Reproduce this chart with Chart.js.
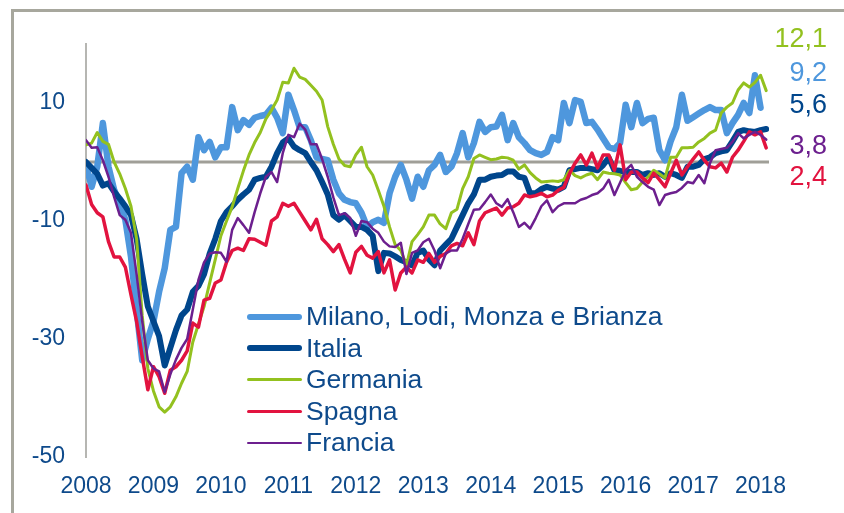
<!DOCTYPE html>
<html>
<head>
<meta charset="utf-8">
<script src="https://cdn.jsdelivr.net/npm/chart.js@4.4.1/dist/chart.umd.min.js"></script>
<style>
  body { margin: 0; background: #fff; }
  #wrap { position: relative; width: 844px; height: 513px; overflow: hidden; background: #fff; }
  #frame { position: absolute; left: 11px; top: 9px; width: 900px; height: 600px;
           border-left: 3px solid #A7A79D; border-top: 3px solid #A7A79D; }
  #c { position: absolute; left: 0; top: 0; }
  #legend { position: absolute; left: 247px; top: 301px; font-family: "Liberation Sans", Arial, sans-serif;
            font-size: 26.5px; color: #0E4A8B; }
  .row { height: 31.5px; display: flex; align-items: center; white-space: nowrap; }
  .swatch { display: inline-block; width: 55px; margin-right: 4px; border-radius: 4px; }
  .endlab { position: absolute; right: 17px; font-family: "Liberation Sans", Arial, sans-serif;
            font-size: 27px; line-height: 27px; transform: translateY(-50%); }
</style>
</head>
<body>
<div id="wrap">
  <div id="frame"></div>
  <canvas id="c" width="844" height="513"></canvas>
  <div id="legend"></div>
</div>
<script>
// mesi: gen 2008 - feb 2018
var yearLabels = ['2008','2009','2010','2011','2012','2013','2014','2015','2016','2017','2018'];
var yTicks = [-50, -30, -10, 10];
var seriesNames = ['Milano, Lodi, Monza e Brianza', 'Italia', 'Germania', 'Spagna', 'Francia'];

var milano = [
  -0.5, -4.2, -0.8, 6.6, -0.8, -4.7, -7, -9.8, -16, -25, -33.6, -30,
  -27, -22, -18, -11.5, -11, -1.9, -0.8, -3, 4.2, 2, 3.4, 0.8,
  2.5, 2.5, 9.3, 5.4, 7.1, 6.3, 7.5, 7.8, 8, 9.2, 7.5, 4.9,
  11.4, 8.8, 5.9, 5.9, 3.7, 0.8, 0.5, 0.3, -3, -5.3, -6.4, -6.8,
  -7, -8.6, -11, -10.2, -9.8, -10.3, -5.3, -2.5, -0.5, -3, -6.2, -2.5,
  -4.2, -1.4, -0.5, 1.2, -1.7, -0.8, 1.5, 4.9, 0.8, 3.2, 6.8, 5.1,
  5.9, 6, 8, 3.7, 6.6, 4.2, 3.2, 2, 1.5, 1.2, 1.7, 4.2,
  3.7, 10, 6.6, 10.5, 10.2, 6.6, 6.8, 5.5, 4, 2.5, 2.2, 3.2,
  9.7, 5.9, 10, 6.6, 7.3, 7.5, 2, 0.3, 3.5, 5.9, 11.4, 7,
  7.6, 8.2, 8.8, 9.3, 8.8, 8.8, 4.9, 6.6, 8, 10, 8.3, 14.7,
  9.2, null
];
var italia = [
  0, -1, -2, -4, -3.6, -5, -6.2, -7.5, -9, -13, -19, -24.5,
  -27, -29.5, -34.5, -31.5, -28.5, -26, -25, -22, -21, -19, -15.5, -13,
  -10, -8.5, -7.5, -6.4, -5.5, -4.7, -3, -2.7, -2.5, -0.8, 1.5, 3.3,
  4, 2.6, 2, 1.5, 0, -1.4, -3.4, -5.5, -9, -9.8, -9, -10,
  -11, -11, -11.5, -12.5, -18.5, -15.4, -15.5, -16, -16.6, -17, -17.5, -15.4,
  -15, -16.5, -17.5, -15, -14, -13, -11, -9, -7, -5.5, -3, -3,
  -2.5, -2.3, -2.2, -1.6, -1.6, -2.5, -2.7, -5.3, -5.3, -4.6, -4.2, -4.5,
  -4.7, -4.2, -1.4, -1.2, -1, -1, -1.2, -1.4, -0.5, 0.7, -1.4, -1.5,
  -1.7, -1.7, -1.7, -2.2, -1.9, -2.2, -1.9, -2.5, -1.9, -2.2, -2.7, -0.8,
  -0.8, -0.5, 0.5, 0.8, 1.5, 1.8, 2, 3.5, 5.1, 5.4, 5.2, 5.1,
  5.4, 5.6
];
var germania = [
  2.9, 3.2, 5, 3.5, 3, 0, -2, -4.5, -7.5, -13, -26, -35,
  -38.8, -41.5, -42.4, -41.5, -39.8, -37.5, -35.5, -30.5, -27.5, -24.5, -20.5, -16.5,
  -12.5, -10, -7.6, -4.5, -1.5, 1.2, 3.3, 5, 7.3, 8.8, 10.5, 13.5,
  13.4, 15.9, 14.4, 14, 13, 12, 10.5, 6, 3, 0.5, -0.6, -0.8,
  1.2, 2.5, -0.8, -2.2, -4.8, -7.5, -11, -14, -15, -17.5, -13.5, -12.3,
  -11, -9, -9, -10.5, -11.3, -8.6, -8, -4.5, -2.5, 0.6, 1.2, 0.8,
  0.4, 0.5, 0.8, 0.7, 0.3, -1.2, -0.5, -1.8, -2.7, -3.4, -3.3, -3.2,
  -3.3, -3, -1.4, -2.3, -2.7, -2.2, -1.9, -3, -1.7, -1.9, -2, -2.2,
  -3.5, -4.7, -4.5, -3.4, -2.5, -1.4, -2, -2.7, 0.8, 0.8, 2.4, 2.4,
  2.5, 3.4, 4, 4.9, 5.4, 8.3, 9.3, 10, 12.2, 13.4, 12.7, 13.5,
  14.7, 12.1
];
var spagna = [
  -3.9, -7.2, -8.6, -9.3, -13.5, -16.1, -16.1, -17.8, -22.5, -27, -33, -38.6,
  -34.7, -36.4, -39.2, -35.3, -34.7, -33.6, -32, -27.3, -28, -23.4, -23.1, -20.5,
  -20, -17, -15, -14.6, -15, -13, -13.1, -13.6, -14.1, -10, -9.3, -7,
  -7.5, -7, -8.5, -10, -11.5, -9.7, -13, -14, -15.2, -14, -16.5, -18.8,
  -15.3, -14.3, -15.8, -16.3, -15.2, -18.8, -16.6, -21.7, -18.8, -17.8, -18.8, -16.6,
  -17, -15.5, -17, -16, -15.5, -14.2, -13.8, -14.2, -12, -14, -10, -8.6,
  -8.2, -7.8, -9, -7.8, -7.6, -7, -5.6, -5.9, -5.7, -5.3, -5.9, -5.6,
  -4.8, -4.3, -2, -0.2, 1.2, -0.5, 1.5, -1, 1.2, 1.2, -1.4, 2.9,
  -3, -1.7, -1.7, -2.7, -3.5, -1.9, -3, -4.2, -1.9, 0.3, -2.2, -0.8,
  0.5, 1.7, 0.3, -0.8, -1, -0.2, -1.7, 0.8, 2, 3.5, 5.1, 4.6,
  5.1, 2.4
];
var francia = [
  3.7, 2.4, 2.5, 0.3, -2.5, -5.9, -9, -9.8, -12, -19, -27, -33.6,
  -35, -35.5, -39, -36, -33.5, -31.5, -30, -25, -20, -17, -15.5, -15.3,
  -15.4, -16.9, -11.5, -9.5, -10.7, -12, -8.5, -5.3, -2.5, -1.7, -3.4, 1.5,
  4.6, 4.2, 6.5, 5.5, 3, 3, 0.5, -2.5, -6, -9, -8.7, -9.5,
  -12.5, -10, -10.2, -11.3, -12, -13.5, -14.3, -14.4, -13.7, -19, -15.4, -15,
  -13.6, -13, -15, -18, -15.5, -15, -15, -13, -10.5, -8.1, -8, -6.8,
  -5.5, -7, -7.6, -6.3, -8.5, -11, -10.3, -11.3, -9.5, -7.5, -6.5, -8.5,
  -7.5, -7, -7, -7, -6.4, -6.1, -5.6, -5.3, -4.5, -3, -5.6, -3.5,
  -1.4, -0.5, -2.5, -3.4, -4.2, -4.7, -7.3, -5.6, -5.3, -5.1, -4.4, -3.4,
  -3.6, -2.2, -3.6, -0.2, 2, 2.2, 2.4, 3.4, 4.9, 4, 4.6, 5.1,
  4.6, 3.8
];

var colori = ['#4E97DD', '#00468C', '#93C11F', '#E2133F', '#6C1F8E'];
var spessori = [6.5, 6, 3, 3.5, 2.5];
var testo = '#0E4A8B';
var font = '"Liberation Sans", Arial, sans-serif';

var series = [milano, italia, germania, spagna, francia];

var datasets = [];
for (var k = 0; k < series.length; k++) {
  datasets.push({
    label: seriesNames[k],
    data: series[k].map(function(v, i){ return {x: i, y: v}; }),
    borderColor: colori[k],
    borderWidth: spessori[k],
    pointRadius: 0,
    tension: 0,
    fill: false,
    borderJoinStyle: 'round',
    borderCapStyle: 'round',
    order: series.length - k
  });
}

// linea dello zero
var lineaZero = {
  id: 'lineaZero',
  beforeDatasetsDraw: function(chart){
    var ctx = chart.ctx, area = chart.chartArea;
    var y = chart.scales.y.getPixelForValue(0);
    ctx.save();
    ctx.strokeStyle = '#A09F98';
    ctx.lineWidth = 3;
    ctx.beginPath();
    ctx.moveTo(area.left, y);
    ctx.lineTo(area.right, y);
    ctx.stroke();
    ctx.restore();
  }
};

var ctx = document.getElementById('c');
var grafico = new Chart(ctx, {
  type: 'line',
  data: { datasets: datasets },
  options: {
    responsive: false,
    animation: false,
    layout: { padding: { top: 44, right: 75, left: 0, bottom: 0 }, autoPadding: false },
    plugins: { legend: { display: false }, tooltip: { enabled: false } },
    scales: {
      x: {
        type: 'linear',
        min: 0,
        max: 121.5,
        grid: { display: false, drawTicks: false },
        border: { display: false },
        afterBuildTicks: function(s){
          s.ticks = yearLabels.map(function(l, i){ return {value: i * 12}; });
        },
        ticks: {
          autoSkip: false, maxRotation: 0, padding: 16, color: testo,
          font: { family: font, size: 23 },
          callback: function(v, i){ return yearLabels[i]; }
        },
        afterFit: function(s){ s.height = 56; }
      },
      y: {
        min: -50,
        max: 20,
        grid: { display: false, drawTicks: false },
        border: { display: true, color: '#B6B6B2', width: 2 },
        afterBuildTicks: function(s){
          s.ticks = yTicks.map(function(v){ return {value: v}; });
        },
        ticks: {
          padding: 21, color: testo,
          font: { family: font, size: 23 },
          callback: function(v){ return String(v); }
        },
        afterFit: function(s){ s.width = 86; }
      }
    }
  },
  plugins: [lineaZero]
});

// legenda
var legenda = document.getElementById('legend');
datasets.forEach(function(ds){
  var row = document.createElement('div');
  row.className = 'row';
  var sw = document.createElement('span');
  sw.className = 'swatch';
  sw.style.height = ds.borderWidth + 'px';
  sw.style.background = ds.borderColor;
  var t = document.createElement('span');
  t.textContent = ds.label;
  row.appendChild(sw);
  row.appendChild(t);
  legenda.appendChild(row);
});

// etichette valori finali (ordine e posizione come nell'originale)
var etichette = [[2, 38], [0, 72], [1, 103.5], [4, 145], [3, 176]];
var wrap = document.getElementById('wrap');
etichette.forEach(function(e){
  var vals = series[e[0]].filter(function(v){ return v !== null; });
  var ultimo = vals[vals.length - 1];
  var d = document.createElement('div');
  d.className = 'endlab';
  d.style.top = e[1] + 'px';
  d.style.color = colori[e[0]];
  d.textContent = ultimo.toFixed(1).replace('.', ',');
  wrap.appendChild(d);
});
</script>
</body>
</html>
